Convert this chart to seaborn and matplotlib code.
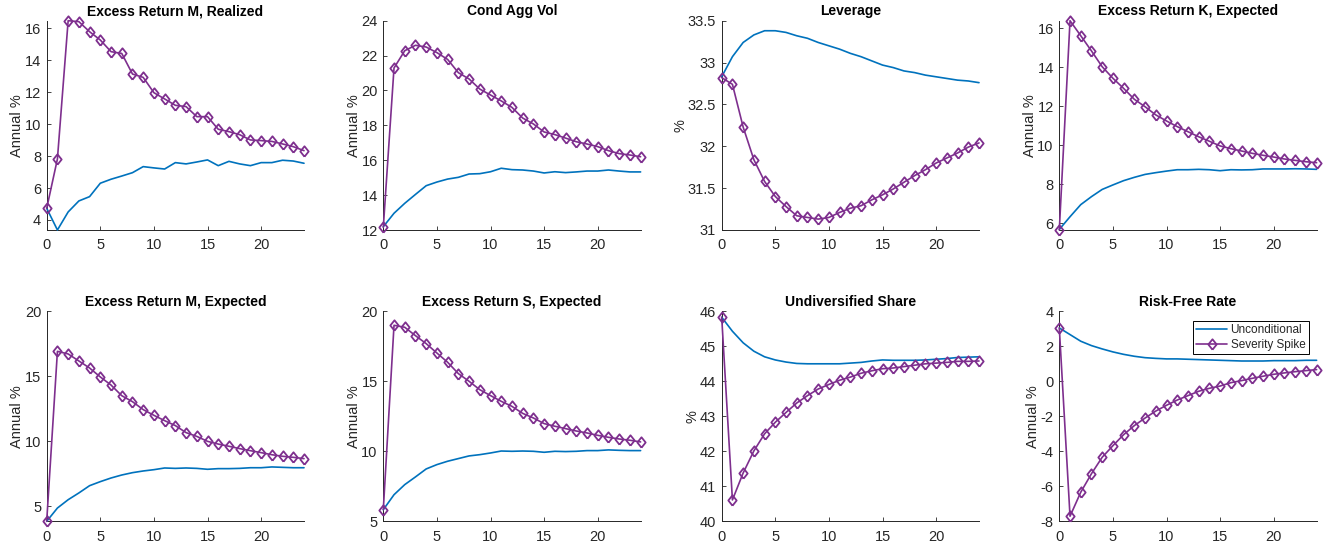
import numpy as np
import pandas as pd
import matplotlib
matplotlib.use("Agg")
import matplotlib.pyplot as plt
import seaborn as sns
from matplotlib.ticker import FuncFormatter

# ---------------- data ----------------
horizon = list(range(25))
series_labels = ["Unconditional", "Severity Spike"]

titles = ["Excess Return M, Realized", "Cond Agg Vol", "Leverage", "Excess Return K, Expected",
          "Excess Return M, Expected", "Excess Return S, Expected", "Undiversified Share", "Risk-Free Rate"]
ylabels = ["Annual %", "Annual %", "%", "Annual %", "Annual %", "Annual %", "%", "Annual %"]

ret_m_real_unc = [4.73, 3.37, 4.50, 5.19, 5.46, 6.30, 6.55, 6.75, 6.96, 7.34, 7.26, 7.19, 7.59,
                  7.51, 7.63, 7.76, 7.40, 7.67, 7.51, 7.40, 7.59, 7.59, 7.74, 7.69, 7.55]
ret_m_real_spk = [4.73, 7.82, 16.48, 16.42, 15.79, 15.27, 14.54, 14.43, 13.14, 12.93, 11.97, 11.58, 11.18,
                  11.10, 10.47, 10.47, 9.68, 9.53, 9.34, 9.01, 8.97, 8.92, 8.76, 8.59, 8.34]

agg_vol_unc = [12.19, 12.96, 13.53, 14.04, 14.54, 14.75, 14.92, 15.02, 15.21, 15.23, 15.34, 15.54, 15.46,
               15.44, 15.38, 15.27, 15.34, 15.29, 15.33, 15.38, 15.38, 15.44, 15.38, 15.33, 15.33]
agg_vol_spk = [12.15, 21.29, 22.28, 22.59, 22.49, 22.17, 21.78, 21.02, 20.66, 20.08, 19.74, 19.40, 19.03,
               18.42, 18.08, 17.62, 17.47, 17.27, 17.06, 16.93, 16.78, 16.55, 16.38, 16.30, 16.20]

leverage_unc = [32.83, 33.07, 33.24, 33.33, 33.38, 33.38, 33.36, 33.32, 33.29, 33.24, 33.20, 33.16, 33.11,
                33.07, 33.02, 32.97, 32.94, 32.90, 32.88, 32.85, 32.83, 32.81, 32.79, 32.78, 32.76]
leverage_spk = [32.82, 32.74, 32.23, 31.84, 31.58, 31.40, 31.28, 31.17, 31.15, 31.13, 31.15, 31.21, 31.26,
                31.29, 31.36, 31.42, 31.49, 31.57, 31.65, 31.72, 31.80, 31.86, 31.92, 31.99, 32.04]

ret_k_exp_unc = [5.69, 6.34, 6.96, 7.37, 7.74, 7.97, 8.19, 8.36, 8.51, 8.60, 8.68, 8.75, 8.75,
                 8.77, 8.75, 8.70, 8.75, 8.74, 8.75, 8.79, 8.79, 8.79, 8.80, 8.79, 8.77]
ret_k_exp_spk = [5.66, 16.39, 15.62, 14.84, 14.03, 13.44, 12.92, 12.36, 11.98, 11.56, 11.25, 10.96, 10.70,
                 10.44, 10.21, 9.97, 9.83, 9.71, 9.59, 9.49, 9.40, 9.30, 9.23, 9.16, 9.11]

ret_m_exp_unc = [3.85, 4.87, 5.51, 6.03, 6.59, 6.90, 7.18, 7.41, 7.59, 7.72, 7.82, 7.95, 7.92,
                 7.95, 7.92, 7.85, 7.90, 7.90, 7.92, 7.97, 7.97, 8.03, 8.00, 7.97, 7.97]
ret_m_exp_spk = [3.85, 16.92, 16.72, 16.18, 15.64, 14.95, 14.33, 13.51, 13.05, 12.44, 12.00, 11.59, 11.21,
                 10.67, 10.38, 10.00, 9.79, 9.62, 9.44, 9.28, 9.13, 8.97, 8.85, 8.77, 8.67]

ret_s_exp_unc = [5.83, 6.90, 7.62, 8.17, 8.74, 9.05, 9.29, 9.48, 9.67, 9.76, 9.88, 10.02, 10.00,
                 10.02, 10.00, 9.93, 10.00, 9.98, 10.00, 10.05, 10.05, 10.10, 10.07, 10.05, 10.05]
ret_s_exp_spk = [5.83, 19.00, 18.86, 18.26, 17.69, 17.02, 16.36, 15.55, 15.00, 14.40, 13.98, 13.57, 13.21,
                 12.71, 12.38, 11.98, 11.79, 11.62, 11.45, 11.31, 11.14, 11.00, 10.88, 10.79, 10.67]

undiv_unc = [45.83, 45.43, 45.10, 44.86, 44.70, 44.61, 44.55, 44.51, 44.50, 44.50, 44.50, 44.50, 44.52,
             44.54, 44.58, 44.61, 44.60, 44.60, 44.60, 44.61, 44.63, 44.65, 44.68, 44.69, 44.70]
undiv_spk = [45.83, 40.61, 41.38, 42.01, 42.50, 42.83, 43.11, 43.38, 43.59, 43.78, 43.91, 44.03, 44.12,
             44.23, 44.30, 44.36, 44.38, 44.42, 44.46, 44.50, 44.52, 44.54, 44.57, 44.57, 44.58]

rf_unc = [3.05, 2.67, 2.29, 2.04, 1.85, 1.68, 1.54, 1.43, 1.35, 1.31, 1.28, 1.28, 1.26,
          1.24, 1.22, 1.20, 1.18, 1.16, 1.16, 1.16, 1.18, 1.18, 1.18, 1.20, 1.20]
rf_spk = [3.05, -7.71, -6.34, -5.28, -4.34, -3.68, -3.05, -2.53, -2.10, -1.70, -1.37, -1.07, -0.82,
          -0.57, -0.40, -0.27, -0.08, 0.04, 0.17, 0.29, 0.40, 0.48, 0.55, 0.61, 0.67]

panels_unc = [ret_m_real_unc, agg_vol_unc, leverage_unc, ret_k_exp_unc,
              ret_m_exp_unc, ret_s_exp_unc, undiv_unc, rf_unc]
panels_spk = [ret_m_real_spk, agg_vol_spk, leverage_spk, ret_k_exp_spk,
              ret_m_exp_spk, ret_s_exp_spk, undiv_spk, rf_spk]

# y-axis settings (None -> tight to data)
ylims = [None, (12, 24), (31, 33.5), None, (None, 20), (5, 20), (40, 46), (-8, 4)]
yticks = [np.arange(4, 17, 2), np.arange(12, 25, 2), np.arange(31, 33.6, 0.5), np.arange(6, 17, 2),
          np.arange(5, 21, 5), np.arange(5, 21, 5), np.arange(40, 47, 1), np.arange(-8, 5, 2)]

# ---------------- style ----------------
sns.set_style("ticks")
plt.rcParams["font.family"] = ["Liberation Sans", "DejaVu Sans"]
plt.rcParams["axes.unicode_minus"] = False

BLUE = "#0072BD"
PURPLE = "#7E2F8E"
AXC = "#262626"

W, H = 1329, 546
fig = plt.figure(figsize=(W / 100, H / 100), dpi=100)

lefts = [46.7, 383.3, 721.7, 1059.3]
rows = [(20.7, 230.0), (311.3, 521.3)]
axw = 257.3

diamond = [(0, -1), (0.8, 0), (0, 1), (-0.8, 0), (0, -1)]

for i in range(8):
    r, c = divmod(i, 4)
    top, bot = rows[r]
    ax = fig.add_axes([lefts[c] / W, 1 - bot / H, axw / W, (bot - top) / H])
    df = pd.DataFrame({
        "h": horizon * 2,
        "v": panels_unc[i] + panels_spk[i],
        "s": [series_labels[0]] * 25 + [series_labels[1]] * 25,
    })
    sns.lineplot(data=df[df.s == series_labels[0]], x="h", y="v", ax=ax, color=BLUE,
                 linewidth=1.2, label=series_labels[0], legend=False, clip_on=False, zorder=3)
    sns.lineplot(data=df[df.s == series_labels[1]], x="h", y="v", ax=ax, color=PURPLE,
                 linewidth=1.2, marker=diamond, markersize=7.5, markerfacecolor="none",
                 markeredgecolor=PURPLE, markeredgewidth=1.3, label=series_labels[1], legend=False,
                 clip_on=False, zorder=4)

    ax.set_xlim(0, 24)
    lo = min(df.v)
    hi = max(df.v)
    yl = ylims[i]
    if yl is None:
        ax.set_ylim(lo, hi)
    else:
        ax.set_ylim(yl[0] if yl[0] is not None else lo, yl[1] if yl[1] is not None else hi)
    ax.set_xticks([0, 5, 10, 15, 20])
    ax.set_yticks(yticks[i])
    ax.yaxis.set_major_formatter(FuncFormatter(lambda v, p: f"{v:g}"))
    ax.set_title(titles[i], fontsize=10, fontweight="bold", color="black", pad=4)
    ax.set_ylabel(ylabels[i], fontsize=10.5, color=AXC, labelpad=0.5)
    ax.set_xlabel("")
    ax.tick_params(direction="in", length=3, width=0.6, colors=AXC, labelsize=10.5, pad=4)
    ax.tick_params(axis="x", pad=6)
    for side in ["top", "right"]:
        ax.spines[side].set_visible(False)
    for side in ["left", "bottom"]:
        ax.spines[side].set_color(AXC)
        ax.spines[side].set_linewidth(0.7)
    ax.grid(False)

    if i == 7:
        leg = ax.legend(loc="upper right", bbox_to_anchor=(0.97, 0.955), fontsize=8.5, frameon=True,
                        fancybox=False, edgecolor="black", framealpha=1, handlelength=2.6,
                        handletextpad=0.3, borderpad=0.3, labelspacing=0.2, borderaxespad=0)
        leg.get_frame().set_linewidth(0.7)

fig.savefig("out.png", dpi=100)
